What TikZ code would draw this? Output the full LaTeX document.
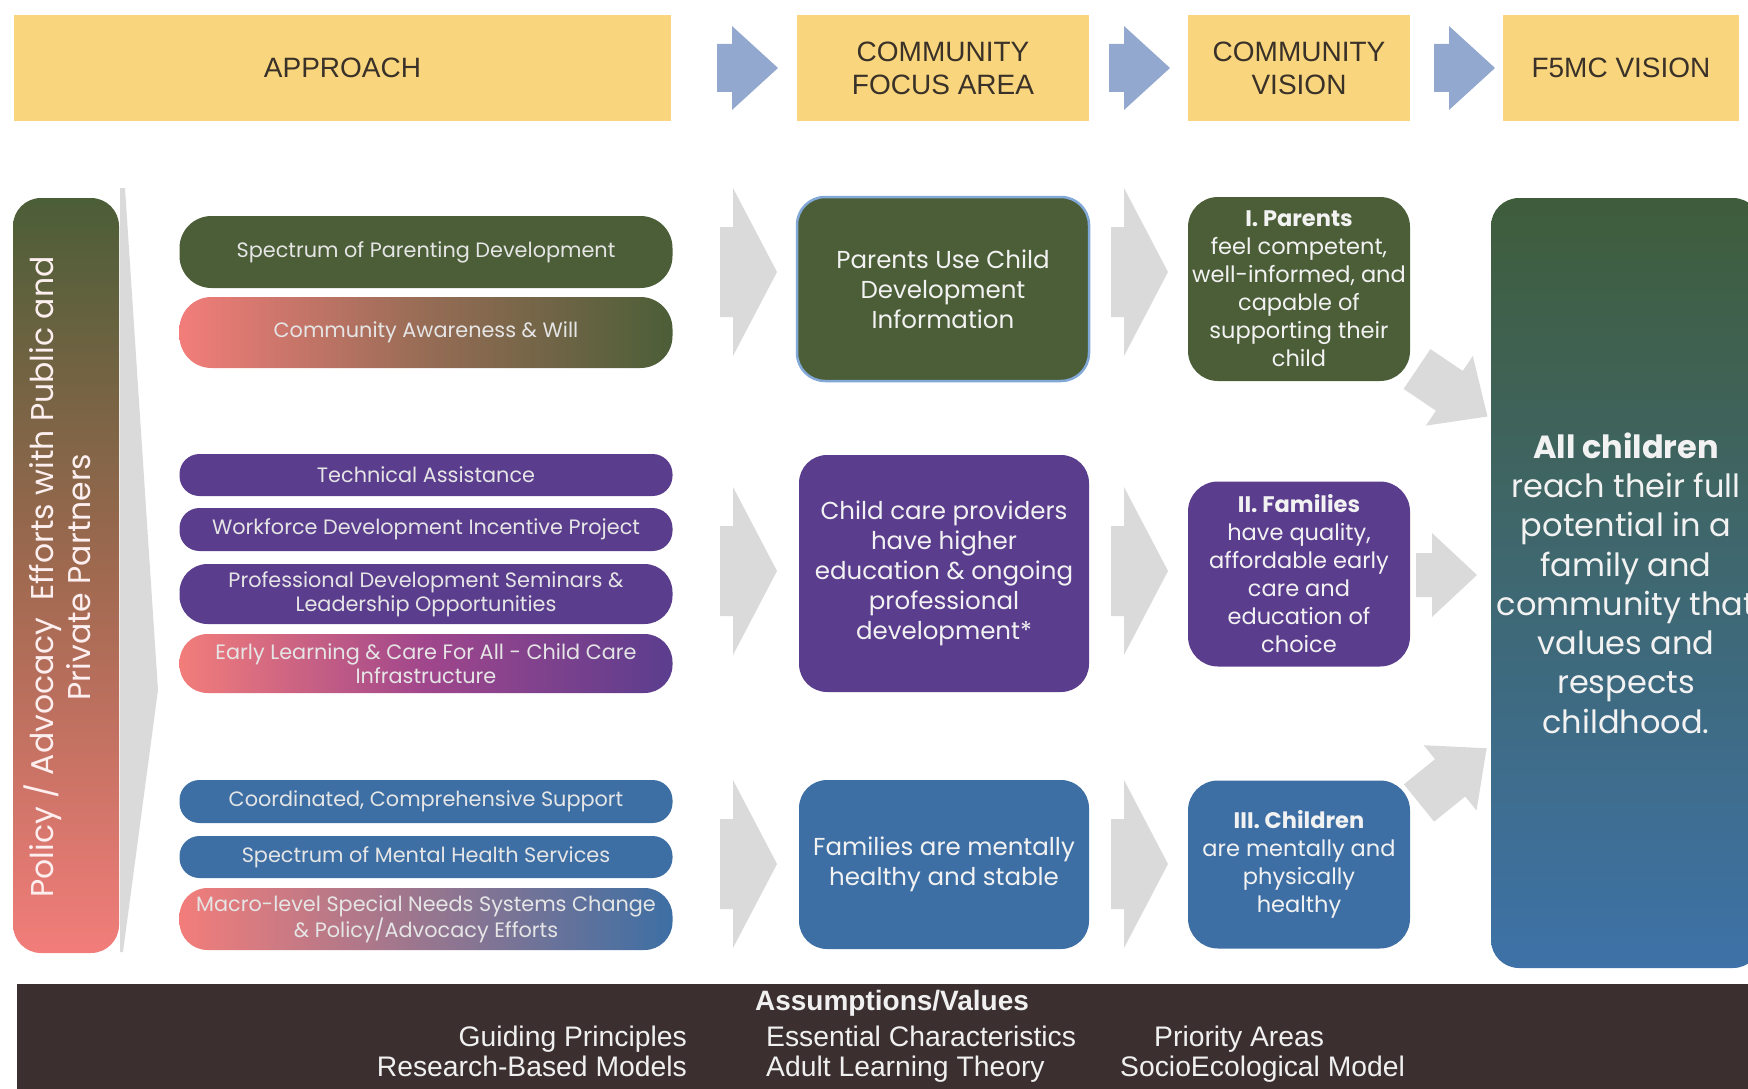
\documentclass[tikz,border=0pt]{standalone}
\usepackage{fontspec}
\setmainfont{Liberation Sans}
\newfontfamily\gothic{Poppins}
\usepackage{tikz}
\usetikzlibrary{shapes}
\definecolor{hdryellow}{HTML}{F9D67E}
\definecolor{hdrtext}{HTML}{3A3128}
\definecolor{hdrarrow}{HTML}{93A8CF}
\definecolor{arrgray}{HTML}{DADADA}
\definecolor{f5green}{HTML}{4B5E37}
\definecolor{f5purple}{HTML}{5B3D8E}
\definecolor{f5blue}{HTML}{3D6FA4}
\definecolor{salmon}{HTML}{F27D7A}
\definecolor{bandbrown}{HTML}{3B2F2F}
\definecolor{edgeblue}{HTML}{82A8D8}
\definecolor{visiontop}{HTML}{3F5D3B}
\definecolor{visionbot}{HTML}{3E72A8}
\definecolor{midpurple}{HTML}{A0468C}
\definecolor{midbrown}{HTML}{A06950}
\tikzset{
         hdr/.style={fill=hdryellow,text=hdrtext,inner sep=0pt,align=center,minimum height=106pt,font=\fontsize{28}{33}\selectfont},
         pill/.style={inner sep=0pt,minimum width=493pt,align=center,text=white!90!black,font=\gothic\fontsize{20.8}{24}\selectfont},
         bigbox/.style={inner sep=0pt,rounded corners=28pt,align=center,text=white!95!black,font=\gothic\fontsize{24.5}{30}\selectfont},
         visbox/.style={inner sep=0pt,rounded corners=30pt,minimum width=222pt,align=center,text=white!95!black,font=\gothic\fontsize{22.5}{28}\selectfont},
         btext/.style={inner sep=0pt,text=white!94!black,font=\fontsize{28.3}{31}\selectfont}
        }
% block arrow: colour, tail, angle, stem length, stem half, head half, head length
\newcommand{\blockarrow}[7]{\fill[#1,shift={#2},rotate=#3](0,-#5)--(#4,-#5)--(#4,-#6)--(#4+#7,0)--(#4,#6)--(#4,#5)--(0,#5)--cycle;}

\begin{document}
\begin{tikzpicture}[x=1pt,y=-1pt]
\useasboundingbox(0,0)rectangle(1748,1089);
\clip(0,0)rectangle(1748,1089);
%header
\node[hdr,minimum width=657pt](hA)at(342.5,68){APPROACH};
\node[hdr,minimum width=292pt](hF)at(943,68){COMMUNITY\\FOCUS AREA};
\node[hdr,minimum width=222pt](hC)at(1299,68){COMMUNITY\\VISION};
\node[hdr,minimum width=236pt](hV)at(1621,68){F5MC VISION};
\blockarrow{hdrarrow}{(717,68)}{0}{15}{24}{42}{46}
\blockarrow{hdrarrow}{(1109,68)}{0}{15}{24}{42}{46}
\blockarrow{hdrarrow}{(1434,68)}{0}{15}{24}{42}{46}
%policy bar
\node[inner sep=0pt,rounded corners=28pt,minimum width=106pt,minimum height=755pt,top color=f5green,bottom color=salmon,middle color=midbrown](pol)at(66,575.5){};
\node[rotate=90,align=center,text=white!88!salmon,font=\gothic\fontsize{31.5}{37}\selectfont](poltxt)at(57,577){Policy / Advocacy\ \ Efforts with Public and\\Private Partners};
\fill[arrgray](120,188)--(125,188)--(158,690)--(123,952)--(120,952)--cycle;
%approach pills
\node[pill,rounded corners=32pt,minimum height=72pt,fill=f5green](sp1)at(426,252){Spectrum of Parenting Development};
\node[pill,rounded corners=32pt,minimum height=71pt,left color=salmon,right color=f5green,middle color=salmon!45!f5green](sp2)at(426,332.5){Community Awareness \& Will};
\node[pill,rounded corners=20pt,minimum height=42pt,fill=f5purple](sp3)at(426,475){Technical Assistance};
\node[pill,rounded corners=20pt,minimum height=43pt,fill=f5purple](sp4)at(426,529.5){Workforce Development Incentive Project};
\node[pill,rounded corners=28pt,minimum height=60pt,fill=f5purple](sp5)at(426,594){Professional Development Seminars \&\\Leadership Opportunities};
\node[pill,rounded corners=28pt,minimum height=59pt,left color=salmon,right color=f5purple,middle color=midpurple](sp6)at(426,663.5){Early Learning \& Care For All - Child Care\\Infrastructure};
\node[pill,rounded corners=20pt,minimum height=43pt,fill=f5blue](sp7)at(426,801.5){Coordinated, Comprehensive Support};
\node[pill,rounded corners=20pt,minimum height=42pt,fill=f5blue](sp8)at(426,857){Spectrum of Mental Health Services};
\node[pill,rounded corners=28pt,minimum height=62pt,left color=salmon,right color=f5blue](sp9)at(426,919){Macro-level Special Needs Systems Change\\\& Policy/Advocacy Efforts};
%gray arrows
\blockarrow{arrgray}{(720,272)}{0}{13}{45}{84}{44}
\blockarrow{arrgray}{(720,571)}{0}{13}{45}{84}{44}
\blockarrow{arrgray}{(720,864)}{0}{13}{45}{84}{44}
\blockarrow{arrgray}{(1111,272)}{0}{13}{45}{84}{44}
\blockarrow{arrgray}{(1111,571)}{0}{13}{45}{84}{44}
\blockarrow{arrgray}{(1111,864)}{0}{13}{45}{84}{44}
%focus areas
\node[bigbox,minimum width=292pt,minimum height=184pt,fill=f5green,draw=edgeblue,line width=2.5pt](fc1)at(943,289){Parents Use Child\\Development\\Information};
\node[bigbox,minimum width=290pt,minimum height=237pt,fill=f5purple](fc2)at(944,573.5){Child care providers\\have higher\\education \& ongoing\\professional\\development*};
\node[bigbox,minimum width=290pt,minimum height=169pt,fill=f5blue](fc3)at(944,864.5){Families are mentally\\healthy and stable};
%community vision
\node[visbox,minimum height=184pt,fill=f5green](cv1)at(1299,289){\textbf{I. Parents}\\feel competent,\\well-informed, and\\capable of\\supporting their\\child};
\node[visbox,minimum height=185pt,fill=f5purple](cv2)at(1299,574){\textbf{II. Families}\\have quality,\\affordable early\\care and\\education of\\choice};
\node[visbox,minimum height=168pt,fill=f5blue](cv3)at(1299,864.5){\textbf{III. Children}\\are mentally and\\physically\\healthy};
\blockarrow{arrgray}{(1417,369)}{-34}{39}{24}{42}{46}
\blockarrow{arrgray}{(1416,575)}{0}{16}{22}{42}{45}
\blockarrow{arrgray}{(1419,803)}{39}{40}{24}{42}{47}
%f5mc vision
\node[bigbox,minimum width=270pt,minimum height=770pt,top color=visiontop,bottom color=visionbot,font=\gothic\fontsize{32}{39.3}\selectfont](f5)at(1626,583){\textbf{All children}\\reach their full\\potential in a\\family and\\community that\\values and\\respects\\childhood.};
%assumptions band
\fill[bandbrown](17,984)rectangle(1748,1089);
\node[btext,font=\bfseries\fontsize{28}{31}\selectfont](asm)at(892,1003){Assumptions/Values};
\node[btext,anchor=base east](gp)at(687,1046){Guiding Principles};
\node[btext,anchor=base east](rb)at(687,1076){Research-Based Models};
\node[btext,anchor=base west](ec)at(766,1046){Essential Characteristics};
\node[btext,anchor=base west](al)at(766,1076){Adult Learning Theory};
\node[btext,anchor=base west](pa)at(1154,1046){Priority Areas};
\node[btext,anchor=base west](se)at(1120,1076){SocioEcological Model};
\end{tikzpicture}
\end{document}
